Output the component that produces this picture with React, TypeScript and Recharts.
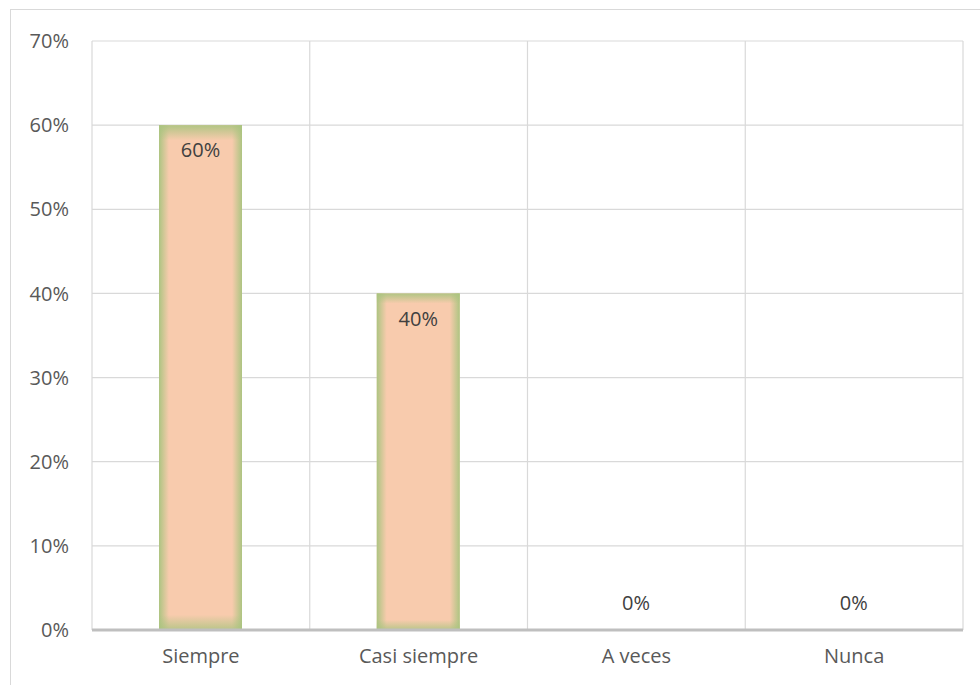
import {BarChart, Bar, XAxis, YAxis, CartesianGrid, LabelList} from "recharts";

const categories = ["Siempre", "Casi siempre", "A veces", "Nunca"];
const shares = [0.6, 0.4, 0, 0];
const yTicks = [0, 0.1, 0.2, 0.3, 0.4, 0.5, 0.6, 0.7];

const data = categories.map((name, i) => ({name, value: shares[i]}));

const FONT = "'Open Sans', sans-serif";
const pct = (v: number) => `${Math.round(v * 100)}%`;

function GradientBar(props: any) {
  const {x, y, width, height} = props;
  if (!height || height <= 0) return null;
  return (
    <g>
      <rect x={x} y={y} width={width} height={height} fill="#F8CBAD" />
      <rect x={x} y={y} width={width} height={height} fill="url(#edgeH)" />
      <rect x={x} y={y} width={width} height={height} fill="url(#edgeV)" />
    </g>
  );
}

function BarLabel(props: any) {
  const {x, y, width, height, value} = props;
  const cx = x + width / 2;
  const ty = value > 0 ? y + 27 : y + height - 25;
  return (
    <text x={cx} y={ty} textAnchor="middle" dominantBaseline="middle" fill="#404040" fontSize={20} fontFamily={FONT}>
      {pct(value)}
    </text>
  );
}

export default function App() {
  return (
    <div style={{position: "absolute", left: 0, top: 0, width: 980, height: 685, background: "#fff", overflow: "hidden"}}>
      <div style={{position: "absolute", left: 10, top: 9, width: 1000, height: 700, border: "1px solid #d9d9d9"}} />
      <div style={{position: "absolute", left: 0, top: 0}}>
        <BarChart width={980} height={685} data={data} margin={{top: 41, right: 17, bottom: 25, left: 0}}>
          <defs>
            <linearGradient id="edgeH" x1="0" y1="0" x2="1" y2="0">
              <stop offset="0" stopColor="#A9C47F" stopOpacity={0.95} />
              <stop offset="0.12" stopColor="#A9C47F" stopOpacity={0} />
              <stop offset="0.88" stopColor="#A9C47F" stopOpacity={0} />
              <stop offset="1" stopColor="#A9C47F" stopOpacity={0.95} />
            </linearGradient>
            <linearGradient id="edgeV" x1="0" y1="0" x2="0" y2="1">
              <stop offset="0" stopColor="#A9C47F" stopOpacity={0.9} />
              <stop offset="0.03" stopColor="#A9C47F" stopOpacity={0} />
              <stop offset="0.97" stopColor="#A9C47F" stopOpacity={0} />
              <stop offset="1" stopColor="#A9C47F" stopOpacity={0.8} />
            </linearGradient>
          </defs>
          <CartesianGrid
            stroke="#d9d9d9"
            strokeWidth={1.2}
            verticalCoordinatesGenerator={({offset}: any) => [0, 1, 2, 3, 4].map((i) => offset.left + (i * offset.width) / categories.length)}
          />
          <XAxis
            dataKey="name"
            height={30}
            axisLine={{stroke: "#bfbfbf", strokeWidth: 3}}
            tickLine={false}
            tickSize={0}
            tickMargin={19}
            tick={{fill: "#595959", fontSize: 20, fontFamily: FONT}}
          />
          <YAxis
            width={92}
            domain={[0, 0.7]}
            ticks={yTicks}
            tickFormatter={pct}
            axisLine={false}
            tickLine={false}
            tickSize={0}
            tickMargin={23}
            tick={{fill: "#595959", fontSize: 20, fontFamily: FONT}}
          />
          <Bar dataKey="value" barSize={83} shape={<GradientBar />} isAnimationActive={false}>
            <LabelList dataKey="value" content={<BarLabel />} />
          </Bar>
        </BarChart>
      </div>
    </div>
  );
}
